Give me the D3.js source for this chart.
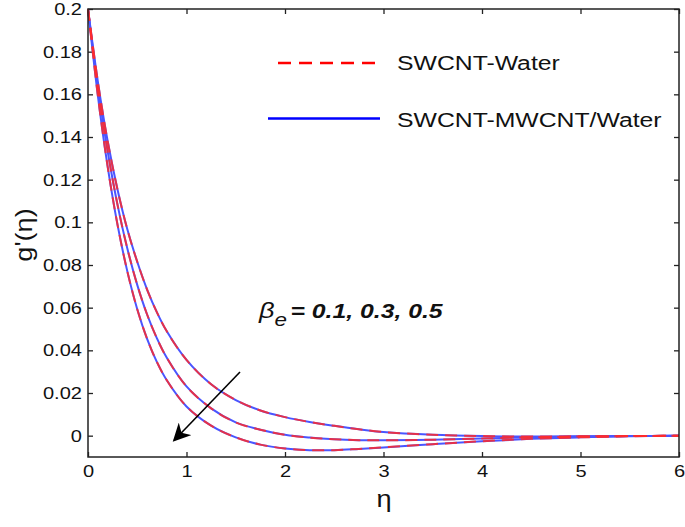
<!DOCTYPE html>
<html>
<head>
<meta charset="utf-8">
<script src="https://cdn.jsdelivr.net/npm/d3@7"></script>
<style>
  html, body { margin: 0; padding: 0; background: #fff; }
  svg { display: block; font-family: "Liberation Sans", Arial, sans-serif; }
</style>
</head>
<body>
<svg id="chart" width="685" height="527"></svg>
<script>
// ---- data ----
const eta = [0, 0.1, 0.2, 0.3, 0.4, 0.5, 0.6, 0.7, 0.8, 1.0, 1.25, 1.5, 1.75, 2, 2.25, 2.5, 2.75, 3, 3.5, 4, 4.5, 5, 5.5, 6];
const betaValues = [0.1, 0.3, 0.5];
// SWCNT-Water (red dashed)
const waterBeta01 = [0.2, 0.166, 0.138, 0.1153, 0.0966, 0.0815, 0.0685, 0.0578, 0.0489, 0.0355, 0.0241, 0.0167, 0.0118, 0.0087, 0.0064, 0.0046, 0.003, 0.0017, 0.0004, -0.0002, -0.0004, -0.0003, -0.0002, 0];
const waterBeta03 = [0.2, 0.1635, 0.1332, 0.1082, 0.0876, 0.0707, 0.0568, 0.0456, 0.0365, 0.0231, 0.0128, 0.0062, 0.0028, 0.0004, -0.0009, -0.0017, -0.0021, -0.0022, -0.0019, -0.0013, -0.0008, -0.0004, -0.0002, 0];
const waterBeta05 = [0.2, 0.1594, 0.126, 0.0988, 0.0769, 0.0593, 0.0454, 0.0345, 0.026, 0.0137, 0.0047, -0.0008, -0.0042, -0.006, -0.0068, -0.0068, -0.0062, -0.0055, -0.004, -0.0026, -0.0015, -0.0008, -0.0003, 0];
// SWCNT-MWCNT/Water (blue solid) – visually coincident with the above
const hybridBeta01 = [0.2, 0.166, 0.138, 0.1153, 0.0966, 0.0815, 0.0685, 0.0578, 0.0489, 0.0355, 0.0241, 0.0167, 0.0118, 0.0087, 0.0064, 0.0046, 0.003, 0.0017, 0.0004, -0.0002, -0.0004, -0.0003, -0.0002, 0];
const hybridBeta03 = [0.2, 0.1635, 0.1332, 0.1082, 0.0876, 0.0707, 0.0568, 0.0456, 0.0365, 0.0231, 0.0128, 0.0062, 0.0028, 0.0004, -0.0009, -0.0017, -0.0021, -0.0022, -0.0019, -0.0013, -0.0008, -0.0004, -0.0002, 0];
const hybridBeta05 = [0.2, 0.1594, 0.126, 0.0988, 0.0769, 0.0593, 0.0454, 0.0345, 0.026, 0.0137, 0.0047, -0.0008, -0.0042, -0.006, -0.0068, -0.0068, -0.0062, -0.0055, -0.004, -0.0026, -0.0015, -0.0008, -0.0003, 0];
const xTicks = [0, 1, 2, 3, 4, 5, 6];
const yTicks = [0, 0.02, 0.04, 0.06, 0.08, 0.1, 0.12, 0.14, 0.16, 0.18, 0.2];
const legendLabels = ["SWCNT-Water", "SWCNT-MWCNT/Water"];

// ---- layout ----
const svg = d3.select("#chart");
const L = 88, R = 679, T = 9, B = 457;
const x = d3.scaleLinear().domain([0, 6]).range([L, R]);
const y = d3.scaleLinear().domain([-0.01, 0.2]).range([B, T]);
const SX = 1.18;

svg.append("rect").attr("width", 685).attr("height", 527).attr("fill", "#fff");

const fmt = d => d === 0 ? "0" : String(+d.toFixed(2));

// left axis
const gl = svg.append("g").attr("transform", `translate(${L},0)`)
  .call(d3.axisLeft(y).tickValues(yTicks).tickFormat(fmt).tickSizeInner(-5).tickSizeOuter(0).tickPadding(6));
gl.selectAll("text").attr("x", 0).attr("transform", `translate(-6,0) scale(${SX},1)`)
  .attr("font-size", 17).attr("font-family", "Liberation Sans, Arial, sans-serif").attr("fill", "#111");
// bottom axis
const gb = svg.append("g").attr("transform", `translate(0,${B})`)
  .call(d3.axisBottom(x).tickValues(xTicks).tickFormat(d3.format("d")).tickSizeInner(-5).tickSizeOuter(0).tickPadding(6));
gb.selectAll("text").attr("y", 8).attr("x", 0).attr("transform", `scale(${SX},1)`)
  .attr("font-size", 17).attr("font-family", "Liberation Sans, Arial, sans-serif").attr("fill", "#111");
// top & right ticks
svg.append("g").attr("transform", `translate(0,${T})`)
  .call(d3.axisTop(x).tickValues(xTicks).tickFormat("").tickSizeInner(-5).tickSizeOuter(0));
svg.append("g").attr("transform", `translate(${R},0)`)
  .call(d3.axisRight(y).tickValues(yTicks).tickFormat("").tickSizeInner(-5).tickSizeOuter(0));
svg.selectAll(".domain").remove();
svg.selectAll(".tick line").attr("stroke", "#222").attr("stroke-width", 1.3);

// curves
const line = d3.line().x((d, i) => x(eta[i])).y(d => y(d)).curve(d3.curveCatmullRom.alpha(0.5));
const hybrid = [hybridBeta01, hybridBeta03, hybridBeta05];
const water = [waterBeta01, waterBeta03, waterBeta05];
const plot = svg.append("g");
hybrid.forEach(s => plot.append("path").attr("d", line(s)).attr("fill", "none")
  .attr("stroke", "#4a55ff").attr("stroke-width", 2));
water.forEach(s => plot.append("path").attr("d", line(s)).attr("fill", "none")
  .attr("stroke", "#ff2a2a").attr("stroke-width", 2).attr("stroke-dasharray", "12,7").attr("stroke-opacity", 0.85));

// frame
svg.append("rect").attr("x", L).attr("y", T).attr("width", R - L).attr("height", B - T)
  .attr("fill", "none").attr("stroke", "#222").attr("stroke-width", 1.5);

// legend
svg.append("line").attr("x1", 278).attr("x2", 378).attr("y1", 63).attr("y2", 63)
  .attr("stroke", "#ff0000").attr("stroke-width", 2.5).attr("stroke-dasharray", "13,8");
svg.append("line").attr("x1", 268).attr("x2", 380).attr("y1", 118.5).attr("y2", 118.5)
  .attr("stroke", "#0000ff").attr("stroke-width", 2.5);
[[70, legendLabels[0]], [126.5, legendLabels[1]]].forEach(([by, t]) => {
  svg.append("text").attr("transform", `translate(397,${by}) scale(${SX},1)`)
    .attr("font-size", 21).attr("fill", "#111").text(t);
});

// annotation
const ann = svg.append("text").attr("transform", `translate(259,318) scale(${SX},1)`).attr("fill", "#111");
ann.append("tspan").attr("font-size", 23).attr("font-style", "italic").text("β");
ann.append("tspan").attr("font-size", 19).attr("font-style", "italic").attr("dy", 8).text("e");
ann.append("tspan").attr("font-size", 21).attr("font-style", "italic").attr("font-weight", "bold")
  .attr("dy", -8).attr("dx", 3).text("= " + betaValues.join(", "));

// arrow
svg.append("defs").append("marker").attr("id", "ah").attr("viewBox", "0 0 10 10")
  .attr("refX", 9).attr("refY", 5).attr("markerWidth", 18).attr("markerHeight", 18)
  .attr("markerUnits", "userSpaceOnUse").attr("orient", "auto")
  .append("path").attr("d", "M0,0 L10,5 L0,10 L3,5 Z").attr("fill", "#000");
svg.append("line").attr("x1", 240).attr("y1", 372).attr("x2", 174).attr("y2", 440.5)
  .attr("stroke", "#000").attr("stroke-width", 1.6).attr("marker-end", "url(#ah)");

// axis labels
svg.append("text").attr("transform", `translate(384,507) scale(${SX},1)`).attr("text-anchor", "middle")
  .attr("font-size", 23).attr("fill", "#111").text("η");
svg.append("text").attr("transform", `translate(32,235) rotate(-90) scale(${SX},1)`).attr("text-anchor", "middle")
  .attr("font-size", 23).attr("fill", "#111").text("g'(η)");
</script>
</body>
</html>
